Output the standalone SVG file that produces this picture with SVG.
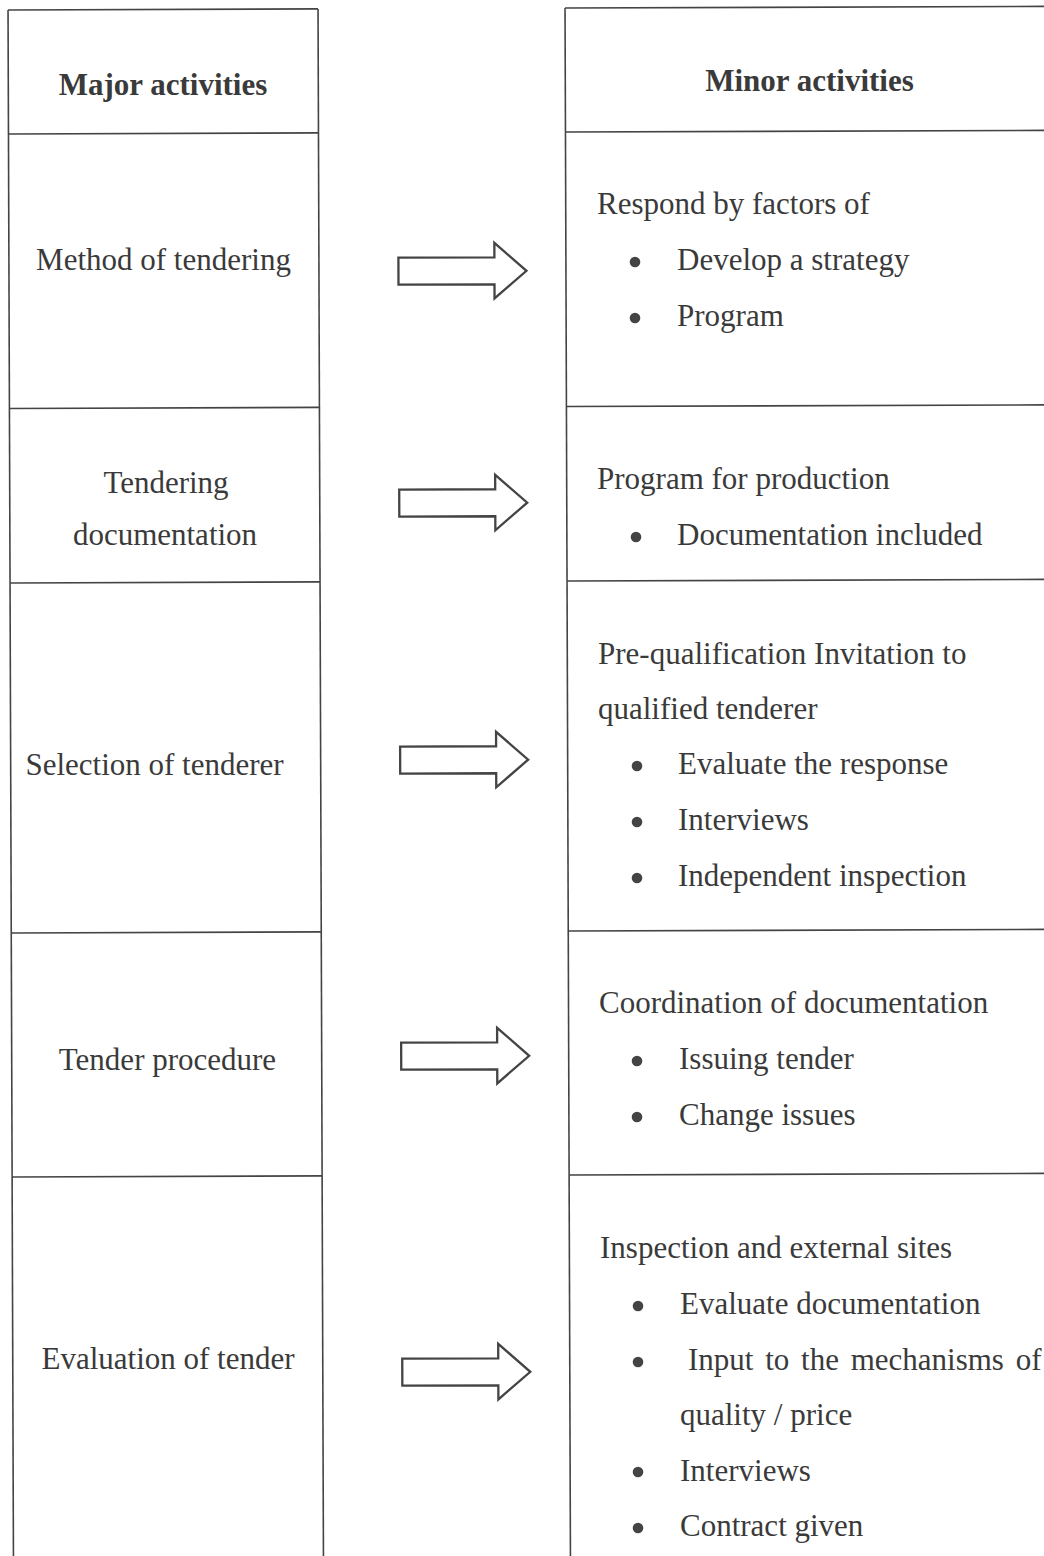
<svg xmlns="http://www.w3.org/2000/svg" width="1044" height="1556" viewBox="0 0 1044 1556">
<style>
.ln{stroke:#444;stroke-width:1.6;fill:none}
.ar{stroke:#444;stroke-width:2.3;fill:#fff;stroke-linejoin:miter}
.t{font-family:"Liberation Serif","Times New Roman",serif;font-size:31px;fill:#3a3a3a}
.h{font-weight:bold;font-size:31px}
.c{text-anchor:middle}
.b{fill:#444}
</style>
<defs>
<path id="arrow" d="M0,-13.5 H96 V-28 L128,0 L96,27.5 V13.5 H0 Z"/>
</defs>
<rect width="1044" height="1556" fill="#fff"/>
<g id="table" transform="rotate(-0.2)">
<g id="left-col">
<line class="ln" x1="8" y1="10" x2="8" y2="1570"/>
<line class="ln" x1="318" y1="10" x2="318" y2="1570"/>
<line class="ln" x1="8" y1="10" x2="318" y2="10"/>
<line class="ln" x1="8" y1="134" x2="318" y2="134"/>
<line class="ln" x1="8" y1="408.5" x2="318" y2="408.5"/>
<line class="ln" x1="8" y1="583" x2="318" y2="583"/>
<line class="ln" x1="8" y1="933" x2="318" y2="933"/>
<line class="ln" x1="8" y1="1177" x2="318" y2="1177"/>
</g>
<g id="right-col">
<line class="ln" x1="565" y1="10" x2="565" y2="1570"/>
<line class="ln" x1="565" y1="10" x2="1100" y2="10"/>
<line class="ln" x1="565" y1="134" x2="1100" y2="134"/>
<line class="ln" x1="565" y1="408.5" x2="1100" y2="408.5"/>
<line class="ln" x1="565" y1="583" x2="1100" y2="583"/>
<line class="ln" x1="565" y1="933" x2="1100" y2="933"/>
<line class="ln" x1="565" y1="1177" x2="1100" y2="1177"/>
</g>
<g id="connectors">
<use href="#arrow" class="ar" x="397.5" y="272.6"/>
<use href="#arrow" class="ar" x="397.5" y="504.5"/>
<use href="#arrow" class="ar" x="397.5" y="761.5"/>
<use href="#arrow" class="ar" x="397.5" y="1057.6"/>
<use href="#arrow" class="ar" x="397.5" y="1373.6"/>
</g>
</g>
<g id="header-major"><text class="t h c" x="163" y="95">Major activities</text></g>
<g id="header-minor"><text class="t h c" x="809.5" y="91">Minor activities</text></g>
<g id="major-1"><text class="t c" x="163.5" y="270">Method of tendering</text></g>
<g id="major-2"><text class="t c" x="166" y="493">Tendering</text><text class="t c" x="165" y="545">documentation</text></g>
<g id="major-3"><text class="t c" x="154.5" y="775">Selection of tenderer</text></g>
<g id="major-4"><text class="t c" x="167.5" y="1070">Tender procedure</text></g>
<g id="major-5"><text class="t c" x="168" y="1369">Evaluation of tender</text></g>
<g id="minor-1">
<text class="t" x="597" y="214">Respond by factors of</text>
<circle class="b" cx="635" cy="262" r="5.3"/><text class="t" x="677" y="270">Develop a strategy</text>
<circle class="b" cx="635" cy="318" r="5.3"/><text class="t" x="677" y="326">Program</text>
</g>
<g id="minor-2">
<text class="t" x="597" y="489">Program for production</text>
<circle class="b" cx="636" cy="537" r="5.3"/><text class="t" x="677" y="545">Documentation included</text>
</g>
<g id="minor-3">
<text class="t" x="598" y="664">Pre-qualification Invitation to</text>
<text class="t" x="598" y="719">qualified tenderer</text>
<circle class="b" cx="637" cy="766" r="5.3"/><text class="t" x="678" y="774">Evaluate the response</text>
<circle class="b" cx="637" cy="822" r="5.3"/><text class="t" x="678" y="830">Interviews</text>
<circle class="b" cx="637" cy="878" r="5.3"/><text class="t" x="678" y="886">Independent inspection</text>
</g>
<g id="minor-4">
<text class="t" x="599" y="1013">Coordination of documentation</text>
<circle class="b" cx="637" cy="1061" r="5.3"/><text class="t" x="679" y="1069">Issuing tender</text>
<circle class="b" cx="637" cy="1117" r="5.3"/><text class="t" x="679" y="1125">Change issues</text>
</g>
<g id="minor-5">
<text class="t" x="600" y="1258">Inspection and external sites</text>
<circle class="b" cx="638" cy="1306" r="5.3"/><text class="t" x="680" y="1314">Evaluate documentation</text>
<circle class="b" cx="638" cy="1362" r="5.3"/><text class="t" x="688" y="1370" word-spacing="4">Input to the mechanisms of</text>
<text class="t" x="680" y="1425">quality / price</text>
<circle class="b" cx="638" cy="1472" r="5.3"/><text class="t" x="680" y="1481">Interviews</text>
<circle class="b" cx="638" cy="1528" r="5.3"/><text class="t" x="680" y="1536">Contract given</text>
</g>
</svg>
